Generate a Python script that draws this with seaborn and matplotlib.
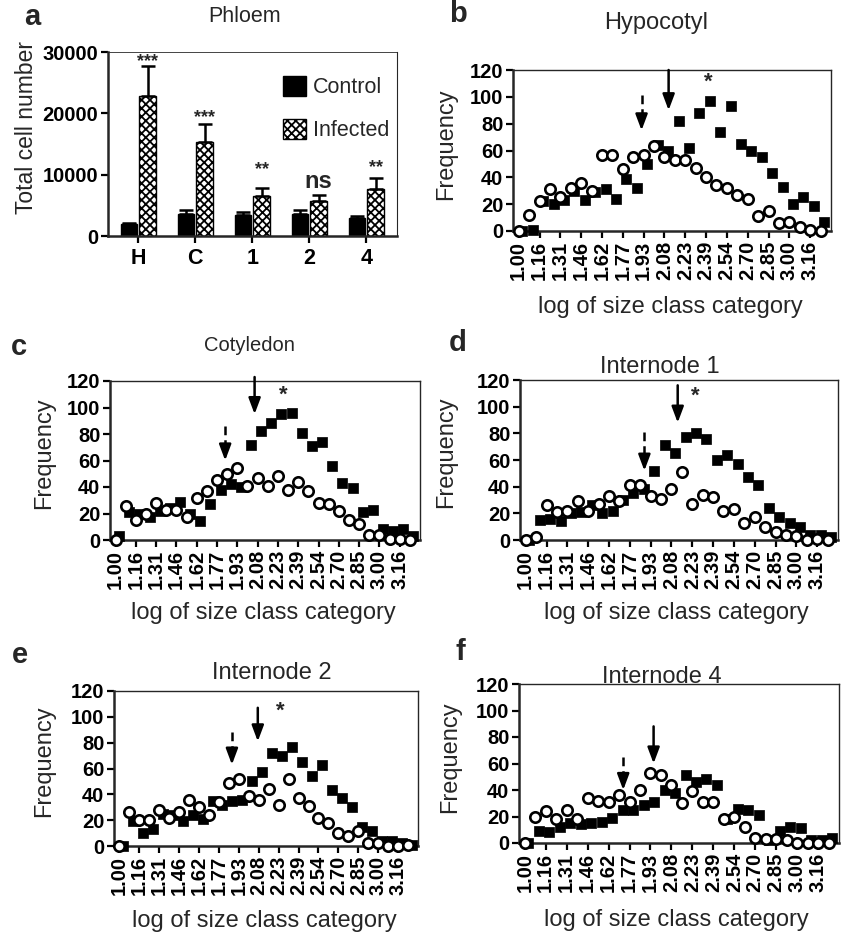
import numpy as np
import pandas as pd
import matplotlib
matplotlib.use('Agg')
import matplotlib.pyplot as plt
import seaborn as sns

# ---- panel a: total phloem cell number ----
sitios = ['H', 'C', '1', '2', '4']
grupos = ['Control', 'Infected']
ctrl_cells = [1950, 3650, 3400, 3650, 3000]
ctrl_err = [250, 550, 550, 650, 300]
inf_cells = [22900, 15400, 6500, 5750, 7600]
inf_err = [4800, 2900, 1300, 900, 1800]
sig_labels = ['***', '***', '**', 'ns', '**']
sig_y = [28400, 19300, 10900, 8900, 11200]

# ---- panels b-f: frequency per size class (30 classes) ----
size_labels = ['1.00', '1.16', '1.31', '1.46', '1.62', '1.77', '1.93', '2.08',
               '2.23', '2.39', '2.54', '2.70', '2.85', '3.00', '3.16']

hyp_ctrl = [0, 12, 22, 31, 25, 32, 36, 30, 57, 57, 46, 55, 57, 63, 55, 53, 53, 47, 40, 34,
            32, 27, 24, 11, 15, 6, 7, 3, 1, 0]
hyp_inf = [0, 1, 22, 20, 23, 30, 23, 29, 31, 24, 39, 32, 50, 64, 60, 82, 62, 88, 97, 74,
           93, 65, 60, 55, 43, 33, 20, 25, 19, 7]

cot_ctrl = [0, 26, 15, 20, 28, 23, 23, 17, 32, 37, 45, 50, 54, 41, 47, 41, 48, 38, 44, 37,
            28, 27, 22, 15, 12, 4, 4, 1, 1, 0]
cot_inf = [3, 21, 20, 17, 22, 24, 29, 20, 14, 27, 38, 42, 40, 72, 82, 88, 95, 96, 81, 71,
           74, 56, 43, 39, 21, 23, 8, 7, 8, 3]

int1_ctrl = [0, 2, 26, 21, 22, 29, 22, 27, 33, 29, 41, 41, 33, 31, 38, 51, 27, 34, 32, 22,
             23, 13, 17, 10, 6, 4, 3, 0, 1, 0]
int1_inf = [0, 15, 16, 14, 20, 21, 26, 20, 22, 30, 35, 38, 52, 71, 65, 77, 80, 76, 60, 64,
            57, 47, 41, 24, 17, 13, 10, 4, 4, 2]

int2_ctrl = [0, 26, 20, 20, 28, 22, 26, 36, 30, 24, 34, 49, 52, 39, 36, 44, 32, 52, 37, 31,
             22, 18, 10, 8, 12, 2, 2, 0, 0, 1]
int2_inf = [0, 19, 10, 13, 25, 24, 19, 24, 21, 35, 32, 35, 36, 50, 57, 72, 70, 77, 65, 54,
            63, 43, 37, 30, 15, 12, 4, 4, 2, 1]

int4_ctrl = [0, 20, 24, 18, 25, 18, 34, 32, 31, 36, 31, 40, 53, 51, 44, 30, 39, 31, 31, 18,
             20, 12, 4, 3, 3, 2, 0, 0, 0, 0]
int4_inf = [0, 9, 8, 12, 15, 14, 15, 16, 19, 25, 25, 29, 31, 40, 38, 51, 46, 48, 44, 18,
            26, 25, 21, 2, 9, 12, 11, 2, 2, 4]

# flechas: (clase, y arriba, y punta) continua y discontinua; estrella (clase, y)
paneles = [
    # letra, titulo, caja px (izq, arriba, der, abajo), control, infectado, flecha, flecha_disc, estrella
    ('b', 'Hypocotyl', (513, 70, 831, 231), hyp_ctrl, hyp_inf, (14.4, 120, 90), (11.8, 101, 75), (18.2, 111)),
    ('c', 'Cotyledon', (110, 381, 420, 540), cot_ctrl, cot_inf, (13.7, 123, 95), (10.8, 86, 60), (16.5, 109)),
    ('d', 'Internode 1', (520, 380, 838, 540), int1_ctrl, int1_inf, (14.6, 116, 88), (11.4, 81, 52), (16.3, 108)),
    ('e', 'Internode 2', (114, 691, 418, 846), int2_ctrl, int2_inf, (13.9, 107, 81), (11.3, 88, 63), (16.2, 104)),
    ('f', 'Internode 4', (519, 684, 839, 843), int4_ctrl, int4_inf, (12.3, 88, 60), (9.4, 65, 40), None),
]
titulo_px = {'b': (656, 23), 'c': (249, 345), 'd': (660, 367), 'e': (272, 673), 'f': (662, 677)}
letra_px = {'b': (458, 14), 'c': (19, 347), 'd': (458, 343), 'e': (20, 655), 'f': (460, 652)}
xlabel_px = {'b': (670, 307), 'c': (263, 613), 'd': (676, 613), 'e': (264, 921), 'f': (676, 920)}
ylabel_px = {'b': (446, 144), 'c': (44, 453), 'd': (446, 452), 'e': (44, 761), 'f': (450, 757)}

sns.set_theme(style='ticks')
plt.rcParams['font.family'] = ['Liberation Sans', 'DejaVu Sans']
plt.rcParams['hatch.linewidth'] = 1.3

W, H = 846, 933
fig = plt.figure(figsize=(W / 100, H / 100), dpi=100)


def px_text(x, y, s, **kw):
    fig.text(x / W, 1 - y / H, s, **kw)


def px_axes(box):
    l, t, r, b = box
    return fig.add_axes([l / W, 1 - b / H, (r - l) / W, (b - t) / H])


def estilo_ejes(ax):
    for lado in ['left', 'bottom']:
        ax.spines[lado].set_linewidth(1.8)
    for lado in ['top', 'right']:
        ax.spines[lado].set_visible(True)
        ax.spines[lado].set_linewidth(1.0)
    ax.tick_params(direction='out', length=5, width=1.6, colors='black')
    for lab in ax.get_xticklabels() + ax.get_yticklabels():
        lab.set_fontweight('bold')


# ---- panel a ----
ax = px_axes((108, 52, 397, 236))
df_a = pd.DataFrame({
    'sitio': sitios * 2,
    'grupo': ['Control'] * 5 + ['Infected'] * 5,
    'celulas': ctrl_cells + inf_cells,
})
sns.barplot(data=df_a, x='sitio', y='celulas', hue='grupo', hue_order=grupos,
            palette={'Control': 'black', 'Infected': 'white'}, width=0.66, gap=0.12,
            edgecolor='black', linewidth=1.0, errorbar=None, legend=False, ax=ax)
for bar in ax.containers[1]:
    bar.set_hatch('xxxx')
for cont, err in zip(ax.containers, [ctrl_err, inf_err]):
    xs = [b.get_x() + b.get_width() / 2 for b in cont]
    hs = [b.get_height() for b in cont]
    ax.errorbar(xs, hs, yerr=[np.zeros(len(err)), err], fmt='none', ecolor='black',
                elinewidth=1.8, capsize=5, capthick=1.8, zorder=1)
xs_inf = [b.get_x() + b.get_width() / 2 for b in ax.containers[1]]
for x, y, s in zip(xs_inf, sig_y, sig_labels):
    ax.text(x, y, s, ha='center', va='center', fontweight='bold',
            fontsize=17 if s == 'ns' else 13)
ax.set_xlim(-0.53, 4.54)
ax.set_ylim(0, 30000)
ax.set_yticks([0, 10000, 20000, 30000])
ax.tick_params(axis='y', labelsize=14.5, pad=2)
ax.tick_params(axis='x', labelsize=15.5)
ax.set_xlabel('')
ax.set_ylabel('')
estilo_ejes(ax)
ax.spines['top'].set_linewidth(0.6)
ax.spines['right'].set_linewidth(0.8)
ax.legend(handles=[ax.containers[0][0], ax.containers[1][0]], labels=grupos,
          loc='upper right', bbox_to_anchor=(1.01, 0.93), frameon=False, fontsize=15.5,
          handlelength=1.1, handleheight=1.1, handletextpad=0.3, labelspacing=0.95,
          borderaxespad=0.1)
px_text(245, 17, 'Phloem', ha='center', va='center', fontsize=15.5)
px_text(32, 17, 'a', ha='center', va='center', fontsize=21, fontweight='bold')
px_text(27, 128, 'Total cell number', ha='center', va='center', rotation=90, fontsize=16.5)

# ---- panels b-f ----
for letra, titulo, caja, ctrl, inf, flecha, flecha_d, estrella in paneles:
    ax = px_axes(caja)
    n = len(ctrl)
    df = pd.DataFrame({'clase': np.arange(n), 'Control': ctrl, 'Infected': inf})
    df = df.melt(id_vars='clase', var_name='grupo', value_name='freq')
    df['pos'] = df['clase'] + np.where(df['grupo'] == 'Infected', 0.35, 0.0)

    sns.scatterplot(data=df[df['grupo'] == 'Infected'], x='pos', y='freq', marker='s',
                    color='black', edgecolor='black', linewidth=0.5, s=58,
                    clip_on=False, zorder=3, ax=ax)
    sns.scatterplot(data=df[df['grupo'] == 'Control'], x='pos', y='freq', marker='o',
                    color='black', facecolor='white', edgecolor='black', linewidth=1.9,
                    s=56, clip_on=False, zorder=4, ax=ax)

    xa, y0, y1 = flecha
    ax.annotate('', xy=(xa, y1), xytext=(xa, y0),
                arrowprops=dict(arrowstyle='-|>,head_length=0.8,head_width=0.3',
                                lw=1.8, color='black', shrinkA=0, shrinkB=0),
                annotation_clip=False)
    xd, y0, y1 = flecha_d
    ax.plot([xd, xd], [y0, y1 + 8], color='black', lw=1.8, ls=(0, (3.5, 2)))
    ax.annotate('', xy=(xd, y1), xytext=(xd, y1 + 10),
                arrowprops=dict(arrowstyle='-|>,head_length=0.8,head_width=0.3',
                                lw=1.8, color='black', shrinkA=0, shrinkB=0))
    if estrella is not None:
        ax.text(estrella[0], estrella[1], '*', ha='center', va='center',
                fontsize=16, fontweight='bold')

    ax.set_xlim(-0.55, 30.0)
    ax.set_ylim(0, 120)
    ax.set_yticks(range(0, 121, 20))
    ax.set_xticks(np.arange(0, n, 2))
    ax.set_xticklabels(size_labels, rotation=90)
    ax.tick_params(axis='both', labelsize=14.5, pad=2)
    ax.set_xlabel('')
    ax.set_ylabel('')
    estilo_ejes(ax)

    tx, ty = titulo_px[letra]
    px_text(tx, ty, titulo, ha='center', va='center',
            fontsize=14.5 if letra == 'c' else 17)
    lx, ly = letra_px[letra]
    px_text(lx, ly, letra, ha='center', va='center', fontsize=21, fontweight='bold')
    xx, xy = xlabel_px[letra]
    px_text(xx, xy, 'log of size class category', ha='center', va='center', fontsize=17)
    yx, yy = ylabel_px[letra]
    px_text(yx, yy, 'Frequency', ha='center', va='center', rotation=90, fontsize=17)

fig.savefig('out.png', dpi=100)
